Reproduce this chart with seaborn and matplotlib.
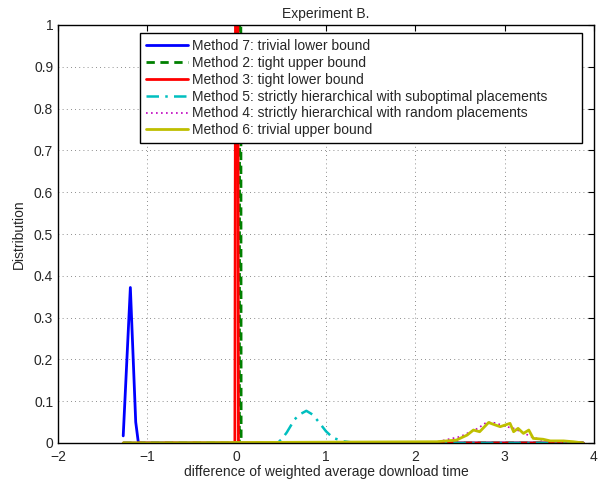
import numpy as np
import pandas as pd
import seaborn as sns
from matplotlib import pyplot as plt

# values (x = difference, y = distribution)
m7_x = [-1.27, -1.19, -1.13, -1.10, 3.88]
m7_y = [0.017, 0.372, 0.05, 0.0, 0.0]

m2_x = [-1.27, 0.03, 0.04, 0.05, 3.88]
m2_y = [0.0, 0.0, 3.0, 0.0, 0.0]

m3_x = [-1.27, -0.02, 0.0, 0.02, 3.88]
m3_y = [0.0, 0.0, 3.0, 0.0, 0.0]

m5_x = [-1.27, 0.45, 0.50, 0.56, 0.65, 0.72, 0.78, 0.85, 0.92, 1.00, 1.08, 1.20, 1.30, 1.40, 3.88]
m5_y = [0.0, 0.0, 0.008, 0.025, 0.057, 0.070, 0.077, 0.068, 0.050, 0.028, 0.012, 0.004, 0.001, 0.0, 0.0]

m4_x = [-1.27, 2.20, 2.35, 2.50, 2.60, 2.70, 2.80, 2.90, 3.00, 3.10, 3.20, 3.30, 3.40, 3.55, 3.70, 3.88]
m4_y = [0.0, 0.0, 0.008, 0.015, 0.025, 0.035, 0.050, 0.048, 0.040, 0.035, 0.025, 0.015, 0.008, 0.003, 0.0, 0.0]

m6_x = [-1.27, 2.24, 2.46, 2.58, 2.65, 2.72, 2.82, 2.87, 2.95, 3.06, 3.10, 3.15, 3.21,
        3.27, 3.32, 3.43, 3.51, 3.66, 3.77, 3.88]
m6_y = [0.0, 0.003, 0.007, 0.019, 0.031, 0.027, 0.049, 0.045, 0.039, 0.047, 0.027, 0.035,
        0.023, 0.031, 0.011, 0.009, 0.005, 0.005, 0.003, 0.0]

SERIES = [
    ("Method 7: trivial lower bound", m7_x, m7_y, (0, 0, 1), "-", 2.0),
    ("Method 2: tight upper bound", m2_x, m2_y, (0, 0.5, 0), (0, (3, 2)), 2.0),
    ("Method 3: tight lower bound", m3_x, m3_y, (1, 0, 0), "-", 2.0),
    ("Method 5: strictly hierarchical with suboptimal placements", m5_x, m5_y,
     (0, 0.75, 0.75), (0, (5, 2.5, 1, 2.5)), 1.8),
    ("Method 4: strictly hierarchical with random placements", m4_x, m4_y,
     (0.75, 0, 0.75), (0, (1, 2)), 1.2),
    ("Method 6: trivial upper bound", m6_x, m6_y, (0.75, 0.75, 0), "-", 2.0),
]

sns.set_style("white")
plt.rcParams["font.family"] = ["Liberation Sans", "DejaVu Sans"]
plt.rcParams["axes.unicode_minus"] = True

fig = plt.figure(figsize=(6.08, 4.83), dpi=100)
ax = fig.add_axes([58 / 608, 1 - 443 / 483, 536 / 608, 418 / 483])

for label, xs, ys, color, ls, lw in SERIES:
    df = pd.DataFrame({"x": xs, "y": ys})
    sns.lineplot(data=df, x="x", y="y", ax=ax, color=color, linestyle=ls,
                 linewidth=lw, label=label, estimator=None, sort=False)

ax.set_xlim(-2, 4)
ax.set_ylim(0, 1)
ax.set_xticks(np.arange(-2, 5, 1))
ax.set_yticks(np.arange(0, 1.01, 0.1))
ax.set_yticklabels(["0", "0.1", "0.2", "0.3", "0.4", "0.5", "0.6", "0.7", "0.8", "0.9", "1"])
ax.tick_params(direction="in", top=True, right=True, labelsize=10, length=4, color="black")
ax.tick_params(axis="x", pad=5)
ax.grid(True, linestyle=(0, (1, 4)), color="black", linewidth=0.6, alpha=0.6)
for sp in ax.spines.values():
    sp.set_color("black")
    sp.set_linewidth(1.0)

ax.set_title("Experiment B.", fontsize=10, pad=5)
ax.set_xlabel("difference of weighted average download time", fontsize=10, labelpad=1)
ax.set_ylabel("Distribution", fontsize=10, labelpad=6)

leg = ax.legend(loc="upper left", bbox_to_anchor=(0.153, 0.981, 0.825, 0.0), mode="expand",
                fontsize=10, handlelength=3.0, handletextpad=0.35, labelspacing=0.21,
                borderpad=0.42, borderaxespad=0.0, fancybox=False, framealpha=1,
                edgecolor="black")
leg.get_frame().set_linewidth(1.0)

fig.savefig("out.png", dpi=100)
